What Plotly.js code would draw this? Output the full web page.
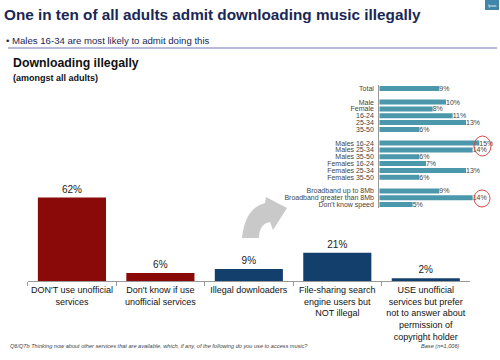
<!DOCTYPE html>
<html>
<head>
<meta charset="utf-8">
<script src="https://cdn.plot.ly/plotly-3.0.1.min.js"></script>
<style>html,body{margin:0;padding:0;background:#fff}#chart{width:500px;height:360px}</style>
</head>
<body>
<div id="chart"></div>
<script>
// ---- Data ----
const mainCategories = [
  "DON'T use unofficial<br>services",
  "Don't know if use<br>unofficial services",
  "Illegal downloaders",
  "File-sharing search<br>engine users but<br>NOT illegal",
  "USE unofficial<br>services but prefer<br>not to answer about<br>permission of<br>copyright holder"
];
const mainValues = [62, 6, 9, 21, 2];
const mainColors = ["#8a0a0a", "#8a0a0a", "#133f6c", "#133f6c", "#133f6c"];

const insetCategories = [
  "Total", " ",
  "Male", "Female", "16-24", "25-34", "35-50", "  ",
  "Males 16-24", "Males 25-34", "Males 35-50", "Females 16-24", "Females 25-34", "Females 35-50", "   ",
  "Broadband up to 8Mb", "Broadband greater than 8Mb", "Don't know speed"
];
const insetValues = [
  9, null,
  10, 8, 11, 13, 6, null,
  15, 14, 6, 7, 13, 6, null,
  9, 14, 5
];

// ---- helpers (pixel -> paper) ----
const W = 500, H = 360;
const px = x => x / W;
const py = y => 1 - y / H;
const FONT = "Liberation Sans, Arial, sans-serif";

const traces = [
  {
    type: "bar",
    x: mainCategories,
    y: mainValues,
    xaxis: "x", yaxis: "y",
    width: 0.77,
    marker: { color: mainColors },
    text: mainValues.map(v => v + "%"),
    textposition: "outside",
    constraintext: "none",
    textfont: { size: 10, color: "#222", family: FONT },
    cliponaxis: false,
    hoverinfo: "skip"
  },
  {
    type: "bar",
    orientation: "h",
    y: insetCategories,
    x: insetValues,
    xaxis: "x2", yaxis: "y2",
    width: 0.74,
    marker: { color: "#4b97ab" },
    text: insetValues.map(v => v == null ? "" : v + "%"),
    textposition: "outside",
    constraintext: "none",
    textfont: { size: 7, color: "#444", family: FONT },
    cliponaxis: false,
    hoverinfo: "skip"
  }
];

const P = p => px(p[0]).toFixed(4) + "," + py(p[1]).toFixed(4);
const arrowPath =
  "M" + P([242,238]) +
  " Q" + P([245,208]) + " " + P([265,203]) +
  " L" + P([266,197]) +
  " L" + P([287,208]) +
  " L" + P([273,230]) +
  " L" + P([270,222]) +
  " Q" + P([259,224]) + " " + P([259,238]) + " Z";

const layout = {
  width: W, height: H,
  margin: { l: 0, r: 0, t: 0, b: 0 },
  paper_bgcolor: "#fff", plot_bgcolor: "rgba(0,0,0,0)",
  showlegend: false,
  font: { family: FONT, color: "#222" },
  xaxis: {
    domain: [px(27.7), px(470)],
    type: "category",
    tickson: "boundaries",
    tickangle: 0,
    ticks: "outside", ticklen: 4, tickcolor: "#999", tickwidth: 1,
    showline: true, linecolor: "#999", linewidth: 1,
    showgrid: false, zeroline: false, fixedrange: true,
    tickfont: { size: 9, color: "#111", family: FONT },
    automargin: false
  },
  yaxis: {
    domain: [py(281), py(180)],
    range: [0, 75],
    visible: false, fixedrange: true
  },
  xaxis2: {
    anchor: "y2",
    domain: [px(379.3), px(490)],
    range: [0, 16.6],
    visible: false, fixedrange: true
  },
  yaxis2: {
    anchor: "x2",
    domain: [py(208), py(85)],
    type: "category",
    autorange: "reversed",
    tickmode: "array",
    tickvals: insetCategories,
    ticktext: insetCategories,
    showline: true, linecolor: "#999", linewidth: 1,
    ticks: "", showgrid: false, zeroline: false, fixedrange: true,
    tickfont: { size: 7, color: "#444", family: FONT },
    ticklabelstandoff: 3,
    automargin: false
  },
  shapes: [
    { type: "line", xref: "paper", yref: "paper", x0: px(8), x1: px(497), y0: py(48), y1: py(48),
      line: { color: "#a3a3cf", width: 1.5 } },
    { type: "path", xref: "paper", yref: "paper", path: arrowPath,
      fillcolor: "#c9c9c9", line: { width: 0 } },
    { type: "circle", xref: "paper", yref: "paper",
      x0: px(474), x1: px(491), y0: py(156), y1: py(136),
      line: { color: "#d24a4a", width: 1 } },
    { type: "circle", xref: "paper", yref: "paper",
      x0: px(474), x1: px(490), y0: py(207), y1: py(190),
      line: { color: "#d24a4a", width: 1 } },
    { type: "rect", xref: "paper", yref: "paper",
      x0: px(485), x1: px(499), y0: py(10), y1: py(0),
      fillcolor: "#3f86a8", line: { width: 0 } }
  ],
  annotations: [
    { xref: "paper", yref: "paper", x: px(2), y: py(15), xanchor: "left", yanchor: "middle",
      text: "<b>One in ten of all adults admit downloading music illegally</b>",
      showarrow: false, font: { size: 15.3, color: "#1a2755", family: FONT } },
    { xref: "paper", yref: "paper", x: px(4), y: py(40), xanchor: "left", yanchor: "middle",
      text: "• Males 16-34 are most likely to admit doing this",
      showarrow: false, font: { size: 9.6, color: "#1a2755", family: FONT } },
    { xref: "paper", yref: "paper", x: px(11), y: py(63), xanchor: "left", yanchor: "middle",
      text: "<b>Downloading illegally</b>",
      showarrow: false, font: { size: 12.3, color: "#111", family: FONT } },
    { xref: "paper", yref: "paper", x: px(11), y: py(78), xanchor: "left", yanchor: "middle",
      text: "<b>(amongst all adults)</b>",
      showarrow: false, font: { size: 9, color: "#111", family: FONT } },
    { xref: "paper", yref: "paper", x: px(8), y: py(346), xanchor: "left", yanchor: "middle",
      text: "<i>Q6/Q7b Thinking now about other services that are available, which, if any, of the following do you use to access music?</i>",
      showarrow: false, font: { size: 5.6, color: "#444", family: FONT } },
    { xref: "paper", yref: "paper", x: px(462), y: py(346), xanchor: "right", yanchor: "middle",
      text: "<i>Base (n=1,006)</i>",
      showarrow: false, font: { size: 5.6, color: "#444", family: FONT } },
    { xref: "paper", yref: "paper", x: px(492), y: py(6), xanchor: "center", yanchor: "middle",
      text: "Ipsos",
      showarrow: false, font: { size: 3.5, color: "#fff", family: FONT } }
  ]
};

Plotly.newPlot("chart", traces, layout, { staticPlot: true, displayModeBar: false });
</script>
</body>
</html>
